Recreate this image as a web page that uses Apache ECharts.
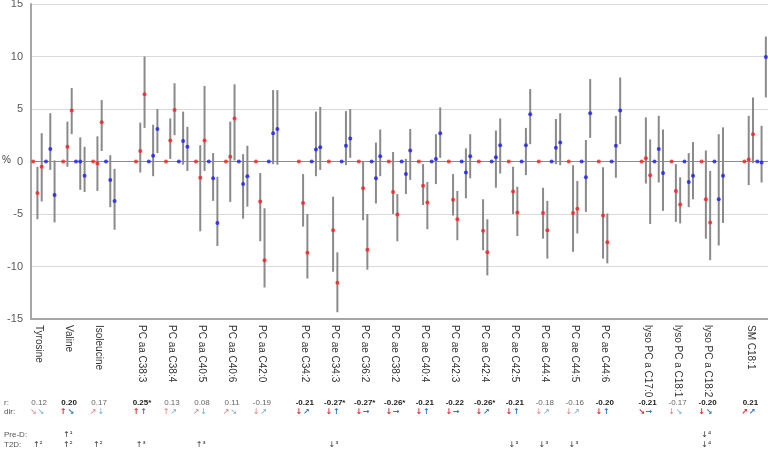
<!DOCTYPE html>
<html>
<head>
<meta charset="utf-8">
<script src="https://cdn.jsdelivr.net/npm/echarts@6/dist/echarts.min.js"></script>
<style>html,body{margin:0;padding:0;background:#fff}#c{width:768px;height:451px}</style>
</head>
<body>
<div id="c"></div>
<script>
// ---------- DATA ----------
const metabolites = ['Tyrosine','Valine','Isoleucine','PC aa C38:3','PC aa C38:4','PC aa C40:5','PC aa C40:6','PC aa C42:0',
  'PC ae C34:2','PC ae C34:3','PC ae C36:2','PC ae C38:2','PC ae C40:4','PC ae C42:3','PC ae C42:4','PC ae C42:5',
  'PC ae C44:4','PC ae C44:5','PC ae C44:6','lyso PC a C17:0','lyso PC a C18:1','lyso PC a C18:2','SM C18:1'];
const metaboliteClass = ['AA','AA','AA','PC aa','PC aa','PC aa','PC aa','PC aa',
  'PC ae','PC ae','PC ae','PC ae','PC ae','PC ae','PC ae','PC ae','PC ae','PC ae','PC ae','lyso','lyso','lyso','SM'];

// red series (first point of each triplet is the 0 reference)
const redA   = [-3.0, 1.4, -0.2, 1.0, 2.0, -1.55, 0.45, -3.8, -3.95, -6.55, -2.55, -2.9, -2.3, -3.65, -6.6, -2.85, -4.9, -4.9, -5.15, 0.3, -2.8, -3.6, 0.2];
const redALo = [-5.5, -0.5, -2.8, -1.05, 0.25, -6.65, -3.85, -7.6, -6.2, -10.5, -5.6, -5.0, -4.15, -5.15, -8.45, -5.0, -7.35, -8.6, -9.25, -2.1, -5.75, -7.35, -2.25];
const redAHi = [-0.5, 3.8, 2.4, 3.7, 4.1, 1.55, 3.8, -1.1, -1.2, -3.35, 0.0, 0.9, -0.25, -1.2, -3.6, -0.5, -2.5, -0.35, -0.55, 4.2, -0.25, 1.05, 4.35];
const redB   = [-0.5, 4.85, 3.75, 6.4, 4.9, 2.0, 4.1, -9.4, -8.7, -11.55, -8.4, -5.05, -3.9, -5.5, -8.65, -4.85, -6.55, -4.5, -7.7, -1.3, -4.1, -5.8, 2.6];
const redBLo = [-3.8, 2.6, 1.0, 3.2, 2.5, -0.9, 0.1, -12.0, -11.15, -14.35, -10.3, -7.6, -6.45, -7.5, -10.85, -7.1, -9.25, -6.85, -9.7, -5.95, -5.9, -9.4, -0.15];
const redBHi = [2.7, 7.0, 5.85, 10.0, 7.45, 7.2, 7.35, -4.45, -5.0, -8.65, -5.0, -3.1, -1.95, -2.8, -5.5, -2.4, -3.75, -1.85, -4.95, 2.1, -1.5, -0.9, 6.1];
// blue series
const blueA   = [1.2, 0.0, -1.75, 0.55, 1.95, -1.6, -2.15, 2.7, 1.15, 1.5, -1.6, -1.2, 0.25, -1.05, 0.4, 1.55, 1.3, -1.5, 1.5, 1.2, -1.95, -3.6, -0.1];
const blueALo = [-0.8, -2.7, -4.35, -1.4, -0.3, -3.75, -5.45, -0.25, -1.4, -0.35, -4.0, -3.1, -2.15, -3.5, -2.5, -1.3, -0.25, -4.8, -1.55, -2.0, -4.35, -8.0, -2.0];
const blueAHi = [4.6, 2.3, 0.6, 3.5, 4.75, 0.8, 0.7, 6.8, 4.75, 4.8, 1.8, 0.25, 2.6, 1.25, 2.95, 3.2, 4.05, 2.05, 4.35, 4.35, 0.8, 2.6, 3.4];
const blueB   = [-3.2, -1.35, -3.75, 3.1, 1.4, -5.85, -1.4, 3.1, 1.35, 2.2, 0.5, 1.05, 2.7, 0.5, 1.55, 4.5, 1.8, 4.6, 4.85, -1.1, -1.35, -1.35, 9.95];
const blueBLo = [-5.8, -2.9, -6.5, 0.8, -0.9, -8.05, -4.3, -0.3, -0.8, 0.35, -1.4, -1.75, 0.35, -1.6, -1.15, 1.65, -0.35, 2.25, 1.65, -4.7, -3.6, -5.85, 6.1];
const blueBHi = [0.1, 1.4, -0.7, 5.0, 3.3, -1.45, 1.5, 6.8, 5.2, 5.0, 3.05, 3.1, 5.15, 2.6, 4.1, 6.9, 4.6, 7.85, 8.0, 3.05, 1.85, 3.25, 11.9];

// table rows
const rValues = ['0.12','0.20','0.17','0.25*','0.13','0.08','0.11','-0.19','-0.21','-0.27*','-0.27*','-0.26*','-0.21','-0.22','-0.26*','-0.21','-0.18','-0.16','-0.20','-0.21','-0.17','-0.20','0.21'];
const rBold   = [0,1,0,1,0,0,0,0,1,1,1,1,1,1,1,1,0,0,1,1,0,1,1];
const dirRed  = ['↘','↑','↗','↑','↑','↗','↗','↓','↓','↓','↓','↓','↓','↓','↓','↓','↓','↓','↓','↘','↓','↓','↗'];
const dirBlue = ['↘','↘','↓','↑','↗','↓','↘','↗','↗','↑','→','→','↑','→','↗','↑','↗','↗','↑','→','↘','↘','↗'];
const preD    = ['','↑¹','','','','','','','','','','','','','','','','','','','','↓⁴',''];
const t2d     = ['↑²','↑²','↑²','↑³','','↑³','','','','↓³','','','','','','↓³','↓³','↓³','','','','↓⁴',''];
const yTicks  = [-15, -10, -5, 0, 5, 10, 15];

// ---------- LAYOUT (slots on the x value axis, numbered from 1) ----------
const perMetabolite = 7, classGap = 3;
const starts = [];
let s = 1;
metabolites.forEach((m, i) => {
  if (i > 0 && metaboliteClass[i] !== metaboliteClass[i - 1]) s += classGap;
  starts.push(s);
  s += perMetabolite;
});
const lastSlot = s - 2; // last metabolite has no trailing gap
const labelPos = starts.map(v => v + 1.4);
const dirPos = starts.map(v => v + 0.9);
const notePos = starts.map(v => v + 1.1);
const key = v => v.toFixed(3);
function lookup(pos, arr) { const m = {}; pos.forEach((p, i) => m[key(p)] = arr[i]); return v => m[key(v)]; }

const redPts = [], bluePts = [], bars = [];
metabolites.forEach((m, i) => {
  const st = starts[i];
  redPts.push([st, 0], [st + 1, redA[i]], [st + 2, redB[i]]);
  bluePts.push([st + 3, 0], [st + 4, blueA[i]], [st + 5, blueB[i]]);
  bars.push([st + 1, redALo[i], redAHi[i]], [st + 2, redBLo[i], redBHi[i]],
            [st + 4, blueALo[i], blueAHi[i]], [st + 5, blueBLo[i], blueBHi[i]]);
});

const xMin = 0.5, xMax = lastSlot + 0.5;
const baseX = { type: 'value', min: xMin, max: xMax, gridIndex: 0, position: 'bottom',
  axisLine: { show: false, onZero: false }, axisTick: { show: false }, splitLine: { show: false } };

const nameOf = lookup(labelPos, metabolites);
const rIdx = lookup(labelPos, metabolites.map((m, i) => i));
const dIdx = lookup(dirPos, metabolites.map((m, i) => i));
const preOf = lookup(notePos, preD);
const t2dOf = lookup(notePos, t2d);

// split line colours: zero line darker than the other gridlines
const gridColors = yTicks.map(v => (v === 0 ? '#8c8c8c' : '#d9d9d9'));
const yMin = yTicks[0], yMax = yTicks[yTicks.length - 1];
// label-only y axis: same scale shifted so its tick values never include 0 (the lib hides a "0" label here)
const yShift = 100;

const arrowFont = 'DejaVu Sans';
const chart = echarts.init(document.getElementById('c'), null, { renderer: 'canvas' });
chart.setOption({
  animation: false,
  backgroundColor: '#ffffff',
  grid: { left: 31, right: 0, top: 4, bottom: 132, containLabel: false, outerBoundsMode: 'none' },
  xAxis: [
    Object.assign({}, baseX, {
      axisLine: { show: true, onZero: false, lineStyle: { color: '#a6a6a6', width: 2 } },
      axisLabel: { customValues: labelPos, rotate: -90, margin: 6, fontSize: 10,
        fontFamily: 'Liberation Sans', color: '#333333', formatter: v => nameOf(v) || '' }
    }),
    Object.assign({}, baseX, { offset: 78,
      axisLabel: { customValues: labelPos, margin: 2, fontSize: 8, fontFamily: 'Liberation Sans',
        formatter: v => { const i = rIdx(v); return (rBold[i] ? '{b|' : '{n|') + rValues[i] + '}'; },
        rich: { b: { fontSize: 8, fontWeight: 'bold', color: '#1a1a1a', fontFamily: 'Liberation Sans' },
                n: { fontSize: 8, color: '#666666', fontFamily: 'Liberation Sans' } } }
    }),
    Object.assign({}, baseX, { offset: 87,
      axisLabel: { customValues: dirPos, margin: 2, fontSize: 8,
        formatter: v => { const i = dIdx(v); const t = rBold[i] ? 'B' : 'L';
          return '{r' + t + '|' + dirRed[i] + '}{g| }{b' + t + '|' + dirBlue[i] + '}'; },
        rich: {
          rB: { fontSize: 8, fontWeight: 'bold', color: '#e3262e', fontFamily: arrowFont },
          bB: { fontSize: 8, fontWeight: 'bold', color: '#2f78c4', fontFamily: arrowFont },
          rL: { fontSize: 8, color: '#ee7378', fontFamily: arrowFont },
          bL: { fontSize: 8, color: '#6da7dc', fontFamily: arrowFont },
          g: { fontSize: 3 } } }
    }),
    Object.assign({}, baseX, { offset: 110,
      axisLabel: { customValues: notePos, margin: 2, fontSize: 8, fontFamily: arrowFont, color: '#333333',
        formatter: v => preOf(v) || '' }
    }),
    Object.assign({}, baseX, { offset: 120,
      axisLabel: { customValues: notePos, margin: 2, fontSize: 8, fontFamily: arrowFont, color: '#333333',
        formatter: v => t2dOf(v) || '' }
    })
  ],
  yAxis: [
    {
      type: 'value', min: yMin, max: yMax, interval: 5, position: 'left',
      axisLine: { show: true, onZero: false, lineStyle: { color: '#a6a6a6', width: 2 } },
      axisTick: { show: false },
      axisLabel: { show: false },
      splitLine: { show: true, lineStyle: { color: gridColors, width: 1.2 } }
    },
    {
      type: 'value', min: yMin + yShift, max: yMax + yShift, interval: 5, position: 'left',
      axisLine: { show: false, onZero: false }, axisTick: { show: false }, splitLine: { show: false },
      axisLabel: { fontSize: 11, color: '#595959', fontFamily: 'Liberation Sans', margin: 8,
        formatter: v => String(Math.round(v - yShift)) }
    }
  ],
  graphic: [
    { type: 'text', left: 2, top: 155, style: { text: '%', fontSize: 10, fill: '#404040', fontFamily: 'Liberation Sans' } },
    { type: 'text', left: 4, top: 399, style: { text: 'r:', fontSize: 8, fill: '#555', fontFamily: 'Liberation Sans' } },
    { type: 'text', left: 4, top: 408, style: { text: 'dir:', fontSize: 8, fill: '#555', fontFamily: 'Liberation Sans' } },
    { type: 'text', left: 4, top: 431, style: { text: 'Pre-D:', fontSize: 8, fill: '#555', fontFamily: 'Liberation Sans' } },
    { type: 'text', left: 4, top: 441, style: { text: 'T2D:', fontSize: 8, fill: '#555', fontFamily: 'Liberation Sans' } }
  ],
  series: [
    {
      type: 'custom', xAxisIndex: 0, yAxisIndex: 0, z: 2,
      data: bars, encode: { x: 0, y: [1, 2] },
      renderItem: (params, api) => {
        const x = api.value(0);
        const p1 = api.coord([x, api.value(1)]);
        const p2 = api.coord([x, api.value(2)]);
        return { type: 'line', shape: { x1: p1[0], y1: p1[1], x2: p2[0], y2: p2[1] },
                 style: { stroke: '#8a8a8a', lineWidth: 2 } };
      }
    },
    {
      type: 'scatter', xAxisIndex: 0, yAxisIndex: 0, z: 4, data: redPts,
      symbol: 'circle', symbolSize: 4, itemStyle: { color: '#ff1a1a' }
    },
    {
      type: 'scatter', xAxisIndex: 0, yAxisIndex: 0, z: 4, data: bluePts,
      symbol: 'circle', symbolSize: 4, itemStyle: { color: '#1a1aff' }
    }
  ]
});
</script>
</body>
</html>
